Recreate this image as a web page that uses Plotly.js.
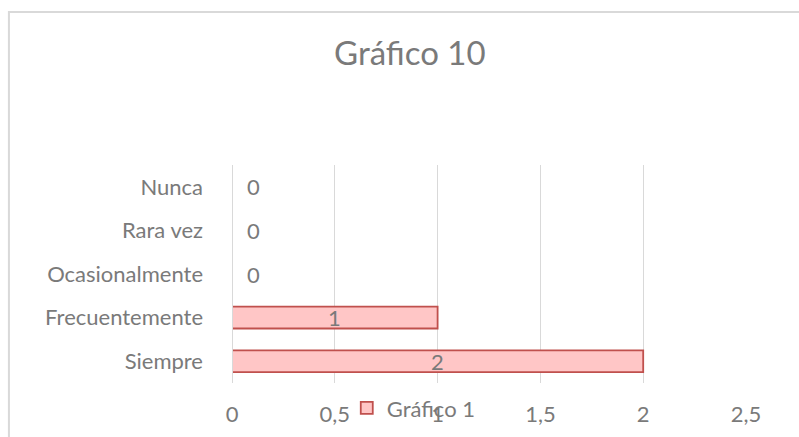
<!DOCTYPE html>
<html>
<head>
<meta charset="utf-8">
<script src="https://cdn.plot.ly/plotly-3.0.1.min.js"></script>
<style>html,body{margin:0;padding:0;background:#fff;}#chart{width:799px;height:437px;}</style>
</head>
<body>
<div id="chart"></div>
<script>
var categories = ["Siempre", "Frecuentemente", "Ocasionalmente", "Rara vez", "Nunca"];
var values = [2, 1, 0, 0, 0];
var seriesName = "Gráfico 1";
var chartTitle = "Gráfico 10";
var xTicks = [0, 0.5, 1, 1.5, 2, 2.5];

var textColor = "#7a7a7a";
var fontFamily = "Lato, 'Open Sans', sans-serif";

var trace = {
  type: "bar",
  orientation: "h",
  y: categories,
  x: values,
  name: seriesName,
  width: 0.5,
  marker: { color: "#ffc6c6", line: { color: "#c0504d", width: 1.8 } },
  hoverinfo: "none",
  showlegend: true
};

var annotations = values.map(function (v, i) {
  if (v > 0) {
    return { x: v / 2, y: categories[i], xref: "x", yref: "y", text: String(v),
      showarrow: false, font: { family: fontFamily, size: 22, color: textColor }, xanchor: "center", yanchor: "middle" };
  }
  return { x: v, y: categories[i], xref: "x", yref: "y", text: String(v),
    showarrow: false, font: { family: fontFamily, size: 22, color: textColor }, xanchor: "left", yanchor: "middle", xshift: 13 };
});

var layout = {
  width: 799, height: 437,
  margin: { l: 232, r: 53, t: 165, b: 54 },
  paper_bgcolor: "#fff", plot_bgcolor: "#fff",
  separators: ",.",
  font: { family: fontFamily, color: textColor, size: 22 },
  title: { text: chartTitle, font: { family: fontFamily, size: 33, color: textColor }, x: 0.513, xanchor: "center", y: 0.878, yanchor: "middle" },
  xaxis: {
    range: [0, 2.5], tickvals: xTicks, ticktext: xTicks.map(function (t) { return String(t).replace(".", ","); }),
    showgrid: true, gridcolor: "#d9d9d9", gridwidth: 1.2, zeroline: false, showline: false,
    ticks: "", ticklabelstandoff: 16, tickfont: { size: 22, color: textColor }, fixedrange: true
  },
  yaxis: {
    showgrid: false, zeroline: false, showline: false, ticks: "", ticklabelstandoff: 28,
    tickfont: { size: 22, color: textColor }, fixedrange: true
  },
  shapes: [
    { type: "line", xref: "x", yref: "paper", x0: 0, x1: 0, y0: 0, y1: 1, line: { color: "#d9d9d9", width: 2 } },
    { type: "rect", xref: "paper", yref: "paper", x0: -0.434, x1: 1.3, y0: -0.5, y1: 1.702, line: { color: "#d9d9d9", width: 2 }, layer: "below" }
  ],
  annotations: annotations,
  showlegend: true,
  legend: { orientation: "h", xref: "container", yref: "container", x: 0.434, xanchor: "left", y: 0.066, yanchor: "middle",
    bgcolor: "rgba(0,0,0,0)", font: { size: 22, color: textColor }, itemwidth: 30 },
  bargap: 0.5
};

Plotly.newPlot("chart", [trace], layout, { displayModeBar: false, staticPlot: true });
</script>
</body>
</html>
